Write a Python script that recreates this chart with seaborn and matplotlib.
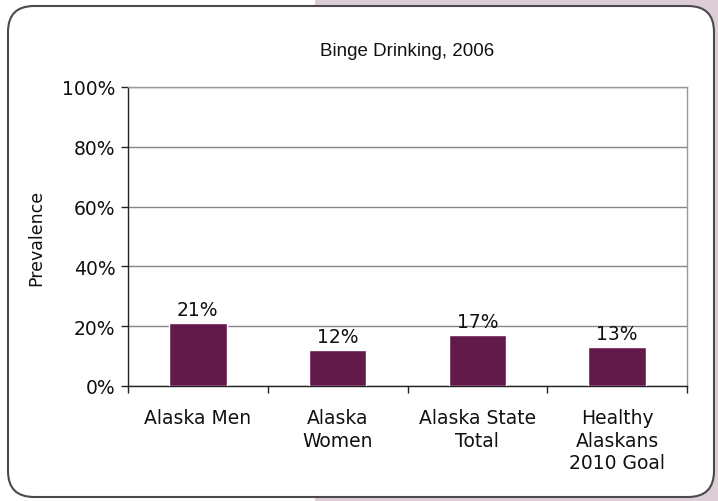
import matplotlib
matplotlib.use("Agg")
import matplotlib.pyplot as plt
import seaborn as sns
import pandas as pd
from matplotlib.patches import FancyBboxPatch, Rectangle
from matplotlib.ticker import FixedLocator, PercentFormatter

categories = ["Alaska Men", "Alaska\nWomen", "Alaska State\nTotal", "Healthy\nAlaskans\n2010 Goal"]
prevalence = [21, 12, 17, 13]
value_labels = ["21%", "12%", "17%", "13%"]
y_ticks = [0, 20, 40, 60, 80, 100]

df = pd.DataFrame({"group": categories, "prevalence": prevalence})

sns.set_theme(style="white")
plt.rcParams["font.family"] = ["DejaVu Sans"]
TITLE_FONT = ["Liberation Sans", "DejaVu Sans"]
INK = "#111111"

W, H = 718, 502
fig = plt.figure(figsize=(W / 100, H / 100), dpi=100)
fig.patch.set_facecolor("white")

# lavender panel behind the card, then the rounded white card itself
fig.patches.append(Rectangle((315 / 100, 0), (W - 315) / 100, H / 100,
                             transform=fig.dpi_scale_trans, facecolor="#DCCDD7",
                             edgecolor="none", zorder=0))
fig.patches.append(FancyBboxPatch((8 / 100, 4 / 100), 706 / 100, 491 / 100,
                                  boxstyle="round,pad=0,rounding_size=0.26",
                                  transform=fig.dpi_scale_trans, facecolor="white",
                                  edgecolor="#4a4a4a", linewidth=1.5, zorder=1))

ax = fig.add_axes([128 / W, 1 - 387 / H, (687 - 128) / W, (387 - 88) / H])
ax.set_facecolor("white")
ax.set_zorder(2)

sns.barplot(data=df, x="group", y="prevalence", color="#621A4B", saturation=1,
            width=0.41, ax=ax, zorder=3)

ax.set_ylim(0, 100)
ax.set_xlim(-0.5, len(categories) - 0.5)
ax.yaxis.set_major_locator(FixedLocator(y_ticks))
ax.yaxis.set_major_formatter(PercentFormatter(decimals=0))
ax.grid(axis="y", color="#868686", linewidth=1.0, zorder=0)
ax.set_axisbelow(True)

# category separators as minor ticks below the axis
ax.xaxis.set_minor_locator(FixedLocator([i - 0.5 for i in range(len(categories) + 1)]))
ax.tick_params(axis="x", which="major", length=0, pad=16, labelsize=13.5, colors=INK)
ax.tick_params(axis="x", which="minor", bottom=True, length=5, width=1, color="#222222")
ax.tick_params(axis="y", left=True, length=5, width=1, color="#222222", pad=4,
               labelsize=13.5, labelcolor=INK)
for lab in ax.get_xticklabels():
    lab.set_linespacing(1.22)

for side in ["left", "bottom"]:
    ax.spines[side].set_color("#222222")
    ax.spines[side].set_linewidth(1.0)
for side in ["top", "right"]:
    ax.spines[side].set_visible(True)
    ax.spines[side].set_color("#9a9a9a")
    ax.spines[side].set_linewidth(1.0)

for i, (v, lab) in enumerate(zip(prevalence, value_labels)):
    ax.annotate(lab, (i, v), xytext=(0, 3), textcoords="offset points",
                ha="center", va="bottom", fontsize=13.5, color=INK)

ax.set_xlabel("")
ax.set_ylabel("Prevalence", fontsize=12.5, color=INK, labelpad=12)
ax.set_title("Binge Drinking, 2006", fontsize=13.5, color=INK, pad=23, family=TITLE_FONT)

fig.savefig("out.png", dpi=100)
